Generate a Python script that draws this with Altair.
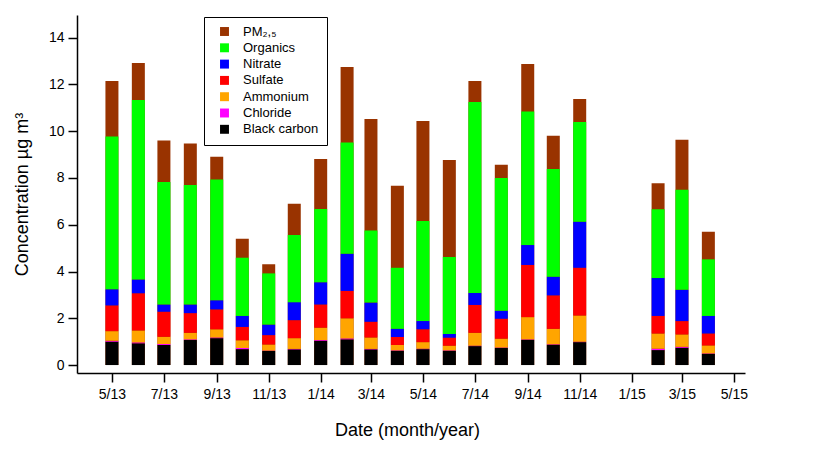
import altair as alt
import pandas as pd

# month of each bar (first day of month)
months = ["2013-05", "2013-06", "2013-07", "2013-08", "2013-09", "2013-10", "2013-11",
          "2013-12", "2014-01", "2014-02", "2014-03", "2014-04", "2014-05", "2014-06",
          "2014-07", "2014-08", "2014-09", "2014-10", "2014-11", "2015-02", "2015-03", "2015-04"]

pm25 = [12.15, 12.92, 9.60, 9.47, 8.91, 5.40, 4.31, 6.90, 8.81, 12.75, 10.52, 7.67,
        10.44, 8.77, 12.15, 8.57, 12.87, 9.81, 11.38, 7.77, 9.64, 5.70]
black_carbon = [1.00, 0.93, 0.86, 1.07, 1.15, 0.68, 0.60, 0.67, 1.04, 1.10, 0.67, 0.61,
                0.68, 0.61, 0.81, 0.73, 1.08, 0.87, 0.98, 0.64, 0.74, 0.48]
chloride = [0.04, 0.04, 0.04, 0.03, 0.03, 0.05, 0.02, 0.02, 0.03, 0.04, 0.02, 0.02,
            0.02, 0.02, 0.02, 0.02, 0.02, 0.02, 0.02, 0.06, 0.04, 0.02]
ammonium = [0.41, 0.51, 0.31, 0.28, 0.35, 0.33, 0.26, 0.46, 0.53, 0.86, 0.49, 0.23,
            0.28, 0.20, 0.55, 0.38, 0.95, 0.66, 1.12, 0.65, 0.53, 0.34]
sulfate = [1.10, 1.59, 1.07, 0.84, 0.85, 0.57, 0.40, 0.77, 0.99, 1.17, 0.67, 0.34,
           0.55, 0.34, 1.19, 0.85, 2.23, 1.43, 2.04, 0.75, 0.57, 0.51]
nitrate = [0.69, 0.59, 0.31, 0.37, 0.39, 0.47, 0.45, 0.77, 0.95, 1.59, 0.82, 0.35,
           0.35, 0.16, 0.51, 0.34, 0.85, 0.80, 1.97, 1.62, 1.34, 0.75]
organics = [6.53, 7.67, 5.24, 5.11, 5.17, 2.49, 2.19, 2.87, 3.13, 4.76, 3.08, 2.61,
            4.28, 3.29, 8.17, 5.68, 5.71, 4.60, 4.26, 2.94, 4.28, 2.42]

pm_label = "PM₂,₅"
legend_order = [pm_label, "Organics", "Nitrate", "Sulfate", "Ammonium", "Chloride", "Black carbon"]
colors = ["#993300", "#00ff00", "#0000ff", "#ff0000", "#ffa500", "#ff00ff", "#000000"]

# stacked species, bottom to top
stack_names = ["Black carbon", "Chloride", "Ammonium", "Sulfate", "Nitrate", "Organics"]
stack_values = [black_carbon, chloride, ammonium, sulfate, nitrate, organics]

rows = []
for rank, (name, vals) in enumerate(zip(stack_names, stack_values)):
    for m, v in zip(months, vals):
        rows.append({"date": m + "-01", "species": name, "value": v, "rank": rank})
species_df = pd.DataFrame(rows)
pm_df = pd.DataFrame({"date": [m + "-01" for m in months], "species": pm_label, "value": pm25})

tick_dates = [alt.DateTime(year=2013 + (4 + 2 * i) // 12, month=(4 + 2 * i) % 12 + 1, date=1, utc=True)
              for i in range(13)]

x_enc = alt.X(
    "date:T",
    scale=alt.Scale(type="utc", padding=0,
                    domain=[alt.DateTime(year=2013, month=3, date=21, utc=True),
                            alt.DateTime(year=2015, month=5, date=14, utc=True)]),
    axis=alt.Axis(values=tick_dates, labelExpr="utcFormat(datum.value, '%-m/%y')",
                  title="Date (month/year)", titleFontSize=18, titleFontWeight="normal",
                  titleX=330, titleY=57, titleBaseline="middle",
                  labelFontSize=14, labelPadding=5, tickSize=9, grid=False,
                  labelFlush=False, labelOverlap=False),
)

color_enc = alt.Color(
    "species:N",
    scale=alt.Scale(domain=legend_order, range=colors),
    legend=alt.Legend(title=None, orient="none", legendX=127, legendY=2,
                      symbolType="square", symbolSize=80, symbolStrokeWidth=0,
                      labelFontSize=13, labelOffset=12, symbolOffset=6,
                      rowPadding=2.3, padding=8, strokeColor="black", fillColor="white"),
)

y_scale = alt.Scale(domain=[-0.34, 14.97], nice=False, zero=False)
y_axis = alt.Axis(values=list(range(0, 15, 2)), title="Concentration µg m³", titleFontSize=18,
                  titleFontWeight="normal", titleX=-55, titleY=179, titleAngle=-90,
                  titleAlign="center", titleBaseline="middle",
                  labelFontSize=14, labelPadding=4, tickSize=9, grid=False)

pm_layer = alt.Chart(pm_df).mark_bar(size=13).encode(
    x=x_enc,
    y=alt.Y("value:Q", scale=y_scale, axis=y_axis, stack=None),
    color=color_enc,
)

species_layer = alt.Chart(species_df).mark_bar(size=13).encode(
    x=x_enc,
    y=alt.Y("value:Q", scale=y_scale, axis=y_axis, stack="zero"),
    color=color_enc,
    order=alt.Order("rank:Q", sort="ascending"),
)

chart = alt.layer(pm_layer, species_layer).properties(
    width=668, height=358,
    autosize=alt.AutoSizeParams(type="none"),
    padding={"left": 69, "top": 7, "right": 20, "bottom": 70},
    background="white",
).configure_view(stroke=None).configure_axis(
    labelFont="Liberation Sans", titleFont="Liberation Sans",
    labelColor="black", titleColor="black",
    domainColor="black", tickColor="black", domainWidth=1.5, tickWidth=1.5,
).configure_legend(labelFont="Liberation Sans", labelColor="black")

chart.save("out.html", embed_options={"renderer": "svg", "actions": False})
